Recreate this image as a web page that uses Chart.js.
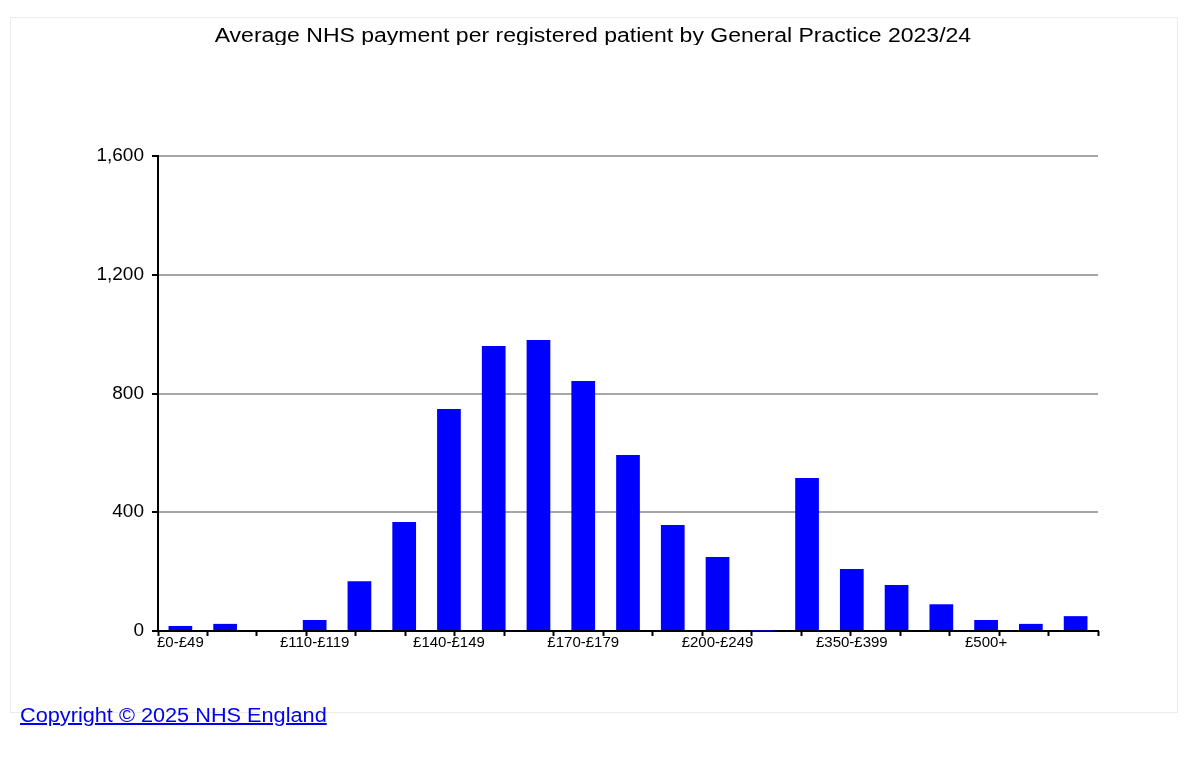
<!DOCTYPE html>
<html>
<head>
<meta charset="utf-8">
<script src="https://cdn.jsdelivr.net/npm/chart.js@4/dist/chart.umd.min.js"></script>
<style>
  html, body { margin: 0; padding: 0; background: #fff; }
  #frame { position: absolute; left: 10px; top: 17px; width: 1166px; height: 694px; border: 1px solid #ebebeb; }
  #wrap { position: absolute; left: 0; top: 0; width: 1200px; height: 770px; }
  #title { position: absolute; left: 0; top: 23px; width: 1185px; height: 22px; overflow: hidden; text-align: center;
           font-family: "Liberation Sans", Arial, sans-serif; font-size: 20px; line-height: 24px; color: #000; white-space: nowrap; }
  #title span { display: inline-block; transform: scaleX(1.15); transform-origin: 50% 50%; }
  #copy { position: absolute; left: 20px; top: 704px; font-family: "Liberation Sans", Arial, sans-serif; font-size: 20px; color: #0000ee;
          text-decoration: underline; transform: scaleX(1.085); transform-origin: 0 50%; white-space: nowrap; }
</style>
</head>
<body>
<div id="frame"></div>
<div id="wrap"><canvas id="c" width="1200" height="770"></canvas></div>
<div id="title"><span id="titleText"></span></div>
<a id="copy">Copyright © 2025 NHS England</a>
<script>
const categories = ['£0-£49','£50-£99','£100-£109','£110-£119','£120-£129','£130-£139','£140-£149','£150-£159','£160-£169','£170-£179','£180-£189','£190-£199','£200-£249','£250-£299','£300-£349','£350-£399','£400-£449','£450-£499','£500+','',''];
const practices = [17, 24, 0, 37, 168, 367, 748, 960, 980, 842, 593, 357, 249, 1, 515, 209, 155, 90, 37, 24, 50];
const yTicks = [0, 400, 800, 1200, 1600];
const titleText = 'Average NHS payment per registered patient by General Practice 2023/24';

document.getElementById('titleText').textContent = titleText;

const font = "'Liberation Sans', Arial, sans-serif";
new Chart(document.getElementById('c'), {
  type: 'bar',
  data: {
    labels: categories,
    datasets: [{
      data: practices,
      backgroundColor: '#0000ff',
      borderWidth: 0,
      barPercentage: 1.0,
      categoryPercentage: 0.53,
      xAxisID: 'x', yAxisID: 'y'
    }]
  },
  options: {
    responsive: false,
    animation: false,
    layout: { padding: { left: 0, right: 102, top: 156, bottom: 99 } },
    plugins: {
      legend: { display: false },
      tooltip: { enabled: false },
      title: { display: false }
    },
    scales: {
      x: {
        type: 'category',
        grid: { display: false, drawTicks: false },
        border: { display: true, color: '#000', width: 2 },
        ticks: {
          autoSkip: false, maxRotation: 0, minRotation: 0, padding: 3, color: '#000',
          font: { family: font, size: 15 },
          callback: (v, i) => (i % 3 === 0 ? categories[i] : '')
        },
        afterFit: s => { s.height = 40; }
      },
      xt: {
        type: 'linear', position: 'bottom', min: 0, max: 19, weight: -1,
        offset: false,
        ticks: { display: false, stepSize: 1 },
        grid: { display: true, offset: false, drawOnChartArea: false, drawTicks: true, tickLength: 5, tickColor: '#000', tickWidth: 2 },
        border: { display: false },
        afterFit: s => { s.height = 0; }
      },
      y: {
        min: 0, max: 1600,
        afterBuildTicks: s => { s.ticks = yTicks.map(v => ({ value: v })); },
        grid: { color: '#a6a6a6', lineWidth: 2, tickColor: '#000', tickLength: 6, tickWidth: 2 },
        border: { display: true, color: '#000', width: 2 },
        ticks: { color: '#000', padding: 8, font: { family: font, size: 19 } },
        afterFit: s => { s.width = 158; }
      }
    }
  }
});
</script>
</body>
</html>
